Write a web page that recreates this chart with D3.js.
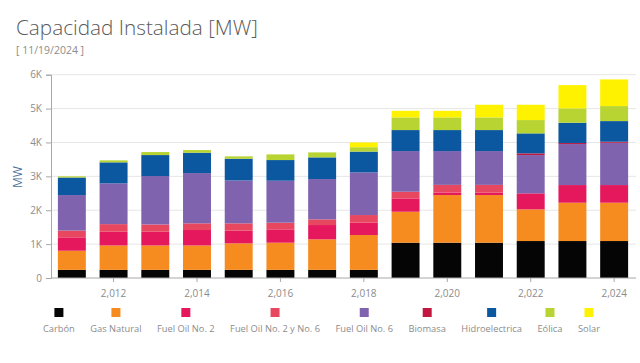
<html>
<head>
<meta charset="utf-8">
<title>Capacidad Instalada</title>
<script src="https://d3js.org/d3.v7.min.js"></script>
<style>
  body { margin: 0; background: #fff; font-family: "Open Sans", "Noto Sans", sans-serif; }
  .axis text { fill: #8c8c8c; font-size: 10px; font-family: "Open Sans", sans-serif; }
  .axis path, .axis line { stroke: #a8a8a8; }
</style>
</head>
<body>
<div id="chart"></div>
<script>
// data (MW), one array per fuel
var years = [2011, 2012, 2013, 2014, 2015, 2016, 2017, 2018, 2019, 2020, 2021, 2022, 2023, 2024];
var carbon      = [240, 240, 240, 240, 240, 240, 240, 240, 1042, 1042, 1042, 1091, 1091, 1091];
var gasNatural  = [565, 720, 720, 720, 783, 802, 901, 1028, 914, 1406, 1406, 935, 1131, 1131];
var fuelOil2    = [395, 406, 406, 456, 373, 394, 422, 364, 394, 70, 70, 472, 521, 521];
var fuelOil2y6  = [200, 224, 214, 197, 217, 196, 168, 226, 196, 230, 230, 0, 0, 0];
var fuelOil6    = [1048, 1203, 1429, 1484, 1267, 1239, 1189, 1259, 1200, 998, 998, 1130, 1210, 1248];
var biomasa     = [0, 0, 0, 0, 0, 0, 0, 0, 0, 0, 0, 50, 30, 30];
var hidro       = [517, 620, 619, 600, 640, 610, 640, 613, 620, 620, 620, 590, 599, 610];
var eolica      = [35, 59, 89, 79, 70, 167, 147, 130, 374, 374, 374, 393, 424, 443];
var solar       = [0, 0, 0, 0, 0, 0, 0, 140, 195, 195, 373, 452, 687, 787];

var seriesNames = ["Carbón", "Gas Natural", "Fuel Oil No. 2", "Fuel Oil No. 2 y No. 6", "Fuel Oil No. 6", "Biomasa", "Hidroelectrica", "Eólica", "Solar"];
var seriesValues = [carbon, gasNatural, fuelOil2, fuelOil2y6, fuelOil6, biomasa, hidro, eolica, solar];
var colors = ["#050505", "#f68b1f", "#e5175d", "#e8485f", "#7f63ae", "#c2173f", "#0b57a0", "#b8d433", "#fef200"];
var yTicks = [0, 1000, 2000, 3000, 4000, 5000, 6000];
var xLabelYears = [2012, 2014, 2016, 2018, 2020, 2022, 2024];

// build rows for the stack
var rows = years.map(function(y, i) {
  var r = { year: y };
  seriesNames.forEach(function(n, j) { r[n] = seriesValues[j][i]; });
  return r;
});

var W = 640, H = 363;
var svg = d3.select("#chart").append("svg")
  .attr("width", W).attr("height", H);

// title
var title = svg.append("text")
  .attr("x", 16).attr("y", 35)
  .attr("fill", "#5a5a5a")
  .attr("font-size", 23)
  .attr("font-weight", 300)
  .text("Capacidad Instalada [MW]");
var tw = title.node().getComputedTextLength();
title.attr("font-size", 23 * 242 / tw);

svg.append("text")
  .attr("x", 16).attr("y", 54)
  .attr("fill", "#8c8c8c")
  .attr("font-size", 10.5)
  .text("[ 11/19/2024 ]");

var x = d3.scaleBand().domain(years).range([51, 635]).paddingInner(0.33).paddingOuter(0.165);
var y = d3.scaleLinear().domain([0, 6000]).range([278, 74.7]);

// grid
svg.append("g").selectAll("line")
  .data(yTicks.slice(1))
  .enter().append("line")
  .attr("x1", 51).attr("x2", 636)
  .attr("y1", function(d) { return y(d); })
  .attr("y2", function(d) { return y(d); })
  .attr("stroke", "#e6e6e6");

var stack = d3.stack().keys(seriesNames);
var layers = stack(rows);

svg.append("g").selectAll("g")
  .data(layers)
  .enter().append("g")
  .attr("fill", function(d, i) { return colors[i]; })
  .selectAll("rect")
  .data(function(d) { return d; })
  .enter().append("rect")
  .attr("x", function(d) { return x(d.data.year); })
  .attr("width", x.bandwidth())
  .attr("y", function(d) { return y(d[1]); })
  .attr("height", function(d) { return y(d[0]) - y(d[1]); });

// axes
svg.append("g")
  .attr("class", "axis")
  .attr("transform", "translate(51,0)")
  .call(d3.axisLeft(y).tickValues(yTicks).tickSize(5).tickPadding(4)
    .tickFormat(function(d) { return d === 0 ? "0" : (d / 1000) + "K"; }));

svg.append("g")
  .attr("class", "axis")
  .attr("transform", "translate(0,278)")
  .call(d3.axisBottom(x).tickValues(xLabelYears).tickSize(4).tickPadding(8)
    .tickFormat(d3.format(",")))
  .select(".domain").attr("d", "M51,0H636");

svg.append("text")
  .attr("transform", "translate(22,177) rotate(-90)")
  .attr("text-anchor", "middle")
  .attr("fill", "#4d6f9c")
  .attr("font-size", 12)
  .text("MW");

// legend: fit items between x=43 and x=600
var legend = svg.append("g").attr("font-size", 9.3).attr("fill", "#8c8c8c");
var labels = seriesNames.map(function(n) {
  return legend.append("text").attr("y", 332).attr("text-anchor", "middle").text(n);
});
var widths = labels.map(function(t) { return t.node().getComputedTextLength(); });
var gap = (557 - d3.sum(widths)) / (seriesNames.length - 1);
var lx = 43;
labels.forEach(function(t, i) {
  var cx = lx + widths[i] / 2;
  t.attr("x", cx);
  legend.append("rect")
    .attr("x", cx - 4.5).attr("y", 308)
    .attr("width", 9).attr("height", 9)
    .attr("fill", colors[i]);
  lx += widths[i] + gap;
});
</script>
</body>
</html>
